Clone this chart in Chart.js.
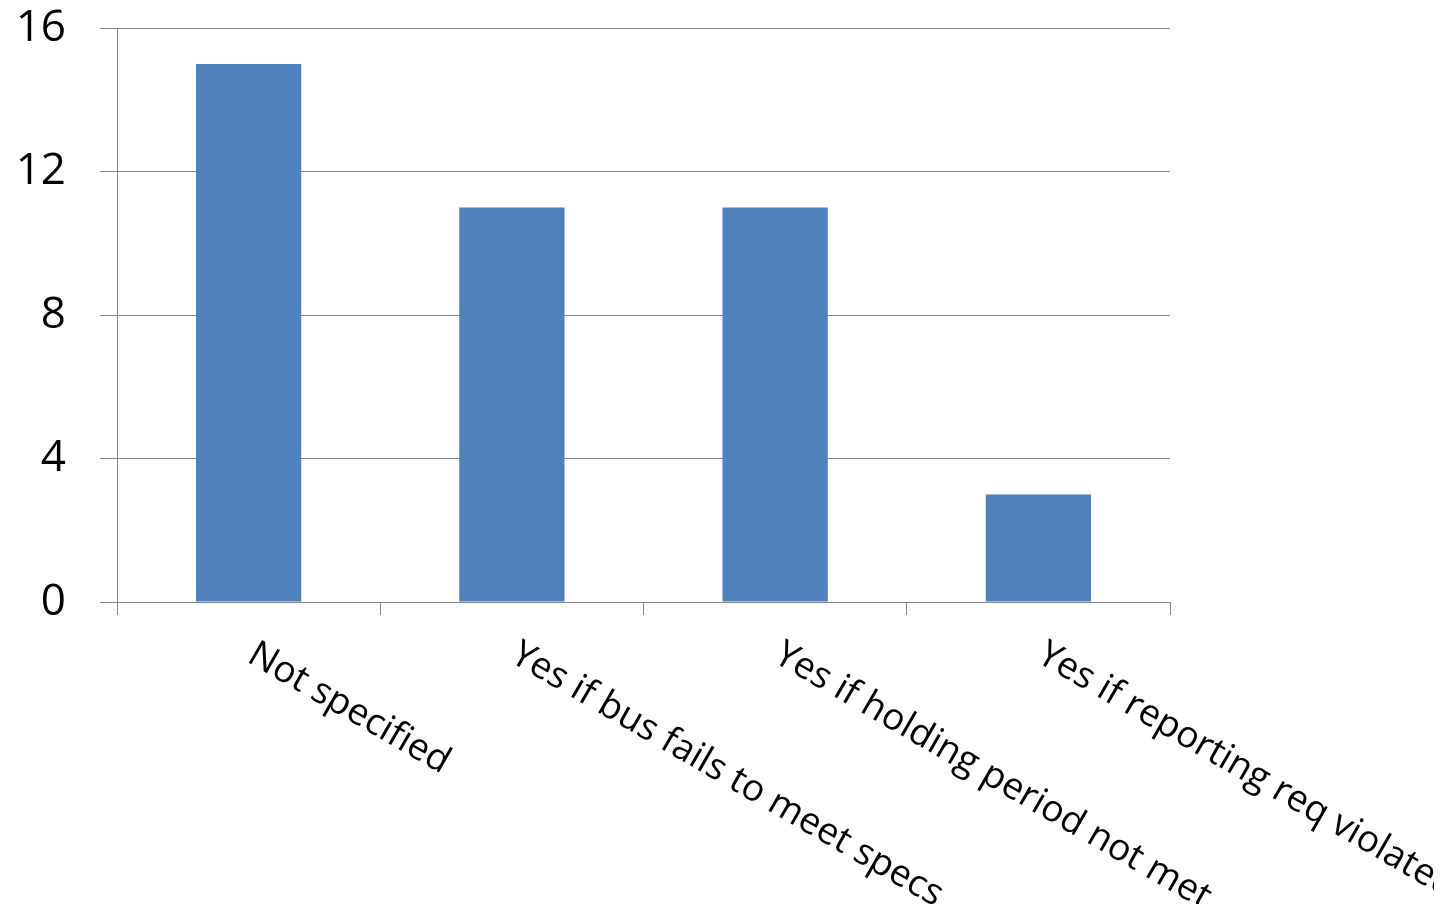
<!DOCTYPE html>
<html>
<head>
<meta charset="utf-8">
<script src="https://cdn.jsdelivr.net/npm/chart.js@4/dist/chart.umd.min.js"></script>
<style>
  html, body { margin: 0; padding: 0; background: #ffffff; }
  #wrap { position: relative; width: 1434px; height: 904px; overflow: hidden; }
</style>
</head>
<body>
<div id="wrap"><canvas id="chart"></canvas></div>
<script>
// Categories and counts for each answer
const categories = [
  'Not specified',
  'Yes if bus fails to meet specs',
  'Yes if holding period not met',
  'Yes if reporting req violated'
];
const counts = [15, 11, 11, 3];
const yTicks = [0, 4, 8, 12, 16];

const LABEL_FONT = '37px "Open Sans", sans-serif';
const GRID = '#868686';

// Category labels written downward at 30 degrees, starting under each bar
const slantedLabels = {
  id: 'slantedLabels',
  afterDraw(chart) {
    const ctx = chart.ctx;
    const xs = chart.scales.x;
    const base = chart.chartArea.bottom;
    ctx.save();
    ctx.font = LABEL_FONT;
    ctx.fillStyle = '#000000';
    ctx.textAlign = 'left';
    ctx.textBaseline = 'alphabetic';
    categories.forEach((label, i) => {
      const x = xs.getPixelForValue(i);
      ctx.save();
      ctx.translate(x - 3, base + 59);
      ctx.rotate(Math.PI / 6);
      ctx.fillText(label, 0, 0);
      ctx.restore();
    });
    ctx.restore();
  }
};

new Chart(document.getElementById('chart'), {
  type: 'bar',
  data: {
    labels: categories,
    datasets: [{
      data: counts,
      backgroundColor: '#4F81BD',
      borderWidth: 0,
      barPercentage: 0.4,
      categoryPercentage: 1.0
    }]
  },
  options: {
    responsive: true,
    maintainAspectRatio: false,
    animation: false,
    layout: { padding: { left: 0, top: 28, right: 264, bottom: 0 } },
    plugins: { legend: { display: false }, tooltip: { enabled: false } },
    scales: {
      x: {
        offset: true,
        grid: {
          offset: true,
          drawOnChartArea: false,
          drawTicks: true,
          tickLength: 13,
          color: GRID,
          lineWidth: 1
        },
        border: { display: true, color: GRID, width: 1 },
        ticks: { display: false },
        afterFit(s) { s.height = 302; }
      },
      y: {
        min: 0,
        max: 16,
        afterBuildTicks(s) { s.ticks = yTicks.map(v => ({ value: v })); },
        grid: {
          color: GRID,
          lineWidth: 1,
          drawTicks: true,
          tickLength: 17
        },
        border: { display: true, color: GRID, width: 1 },
        ticks: {
          color: '#000000',
          font: { family: '"Open Sans", sans-serif', size: 44 },
          padding: 34
        },
        afterFit(s) {
          s.width = 117;
          s.paddingTop = 0;
          s.paddingBottom = 0;
        }
      }
    }
  },
  plugins: [slantedLabels]
});
</script>
</body>
</html>
